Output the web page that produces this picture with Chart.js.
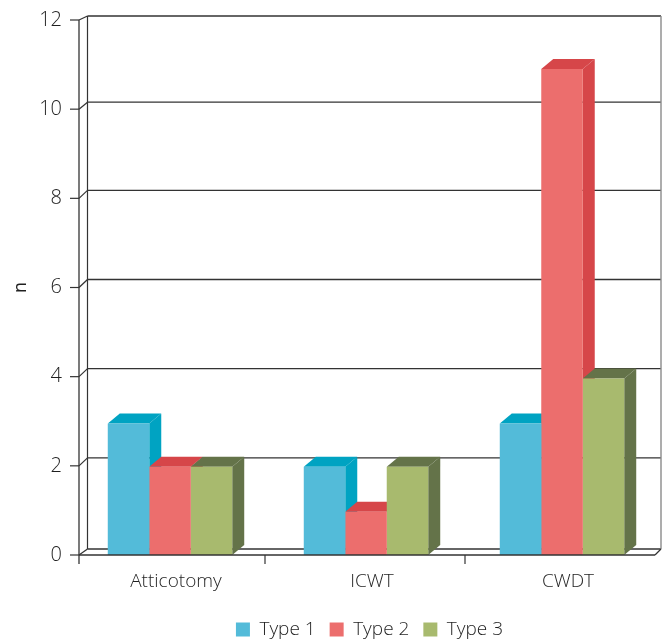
<!DOCTYPE html>
<html>
<head>
<meta charset="utf-8">
<style>
  html, body { margin: 0; padding: 0; background: #fff; }
  canvas { display: block; }
</style>
<script src="https://cdn.jsdelivr.net/npm/chart.js@4"></script>
</head>
<body>
<canvas id="chart" width="663" height="639"></canvas>
<script>
const categories = ["Atticotomy", "ICWT", "CWDT"];
const type1Values = [2.95, 1.98, 2.95];
const type2Values = [1.98, 0.97, 10.9];
const type3Values = [1.98, 1.98, 3.96];
const yTicks = [0, 2, 4, 6, 8, 10, 12];

const frontColors = ["#53bbd9", "#ec6e6d", "#a8ba6e"];
const depthColors = ["#00a3c2", "#d64649", "#647349"];
const inkColor = "#1f1f1f";
const fontFamily = "'Open Sans', sans-serif";

// fake 3D: how far the faces and the back wall are pushed
const barDepth = { dx: 12, dy: -10 };
const frame = { left: 79, right: 655, wallDx: 8.5, rightWall: 661, xTicks: [265, 465] };
const wallRise = [6, 8, 8, 8, 8, 7, 4]; // back line rise per tick

function line(ctx, x1, y1, x2, y2, color, width){
  ctx.strokeStyle = color;
  ctx.lineWidth = width;
  ctx.beginPath();
  ctx.moveTo(x1, y1);
  ctx.lineTo(x2, y2);
  ctx.stroke();
}

function poly(ctx, pts, color){
  ctx.fillStyle = color;
  ctx.beginPath();
  pts.forEach((p, i) => i ? ctx.lineTo(p[0], p[1]) : ctx.moveTo(p[0], p[1]));
  ctx.closePath();
  ctx.fill();
}

const wallPlugin = {
  id: "wall",
  afterLayout(chart){
    // legend sits lower and a bit right of where the layout puts it
    const legend = chart.legend;
    legend.top += 10;
    legend.bottom += 10;
    legend.left += 7;
  },
  beforeDatasetsDraw(chart){
    const ctx = chart.ctx, y = chart.scales.y;
    const backX = frame.left + frame.wallDx;
    ctx.save();
    yTicks.forEach((t, i) => {
      const py = y.getPixelForValue(t);
      const by = py - wallRise[i];
      line(ctx, backX, by, frame.rightWall, by, "#333", 1.4);
      line(ctx, frame.left - 9, py, frame.left, py, "#333", 1.2);
      line(ctx, frame.left, py, backX, by, "#333", 1.2);
    });
    const top = y.getPixelForValue(12), bottom = y.getPixelForValue(0);
    line(ctx, backX, top - wallRise[6], backX, bottom - wallRise[0], "#333", 1.2);
    line(ctx, frame.rightWall, top - wallRise[6], frame.rightWall, bottom - wallRise[0], "#8a8a8a", 1.4);
    line(ctx, frame.right, bottom, frame.rightWall, bottom - wallRise[0], "#333", 1.2);

    // side and top faces, left to right, so the native fronts land on top of them
    const { dx, dy } = barDepth;
    chart.data.datasets.forEach((ds, i) => {
      chart.getDatasetMeta(i).data.forEach(bar => {
        const l = bar.x - bar.width / 2, r = bar.x + bar.width / 2;
        poly(ctx, [[r, bar.y], [r + dx, bar.y + dy], [r + dx, bar.base + dy], [r, bar.base]], depthColors[i]);
        poly(ctx, [[l, bar.y], [l + dx, bar.y + dy], [r + dx, bar.y + dy], [r, bar.y]], depthColors[i]);
      });
    });
    ctx.restore();
  },
  afterDatasetsDraw(chart){
    const ctx = chart.ctx, y = chart.scales.y;
    const top = y.getPixelForValue(12), bottom = y.getPixelForValue(0);
    ctx.save();
    line(ctx, frame.left, top, frame.left, bottom + 9, "#333", 1.3);
    line(ctx, frame.left, bottom, frame.right, bottom, "#333", 1.3);
    frame.xTicks.forEach(x => line(ctx, x, bottom, x, bottom + 9, "#333", 1.2));
    ctx.restore();
  }
};

function makeDataset(label, data, i){
  return {
    label: label,
    data: data,
    backgroundColor: frontColors[i],
    borderWidth: 0,
    categoryPercentage: 0.635,
    barPercentage: 1
  };
}

new Chart(document.getElementById("chart"), {
  type: "bar",
  data: {
    labels: categories,
    datasets: [
      makeDataset("Type 1", type1Values, 0),
      makeDataset("Type 2", type2Values, 1),
      makeDataset("Type 3", type3Values, 2)
    ]
  },
  plugins: [wallPlugin],
  options: {
    responsive: false,
    animation: false,
    devicePixelRatio: 1,
    layout: { padding: { top: 20, right: 3, left: 0, bottom: 0 } },
    plugins: {
      tooltip: { enabled: false },
      legend: {
        position: "bottom",
        fullSize: false,
        labels: {
          boxWidth: 14,
          boxHeight: 14,
          padding: 14,
          color: inkColor,
          font: { family: fontFamily, size: 19, weight: 300 }
        }
      }
    },
    scales: {
      x: {
        grid: { display: false },
        border: { display: false },
        ticks: {
          color: inkColor,
          padding: 7,
          labelOffset: 6,
          maxRotation: 0,
          font: { family: fontFamily, size: 19, weight: 300 }
        },
        afterFit(scale){ scale.height = 41; }
      },
      y: {
        min: 0,
        max: 12,
        grid: { display: false },
        border: { display: false },
        afterBuildTicks(scale){ scale.ticks = yTicks.map(v => ({ value: v })); },
        afterFit(scale){ scale.width = 72; },
        title: {
          display: true,
          text: "n",
          color: inkColor,
          padding: { top: 10, bottom: 0 },
          font: { family: fontFamily, size: 18 }
        },
        ticks: {
          color: inkColor,
          padding: 2,
          font: { family: fontFamily, size: 20, weight: 300 }
        }
      }
    }
  }
});
</script>
</body>
</html>
